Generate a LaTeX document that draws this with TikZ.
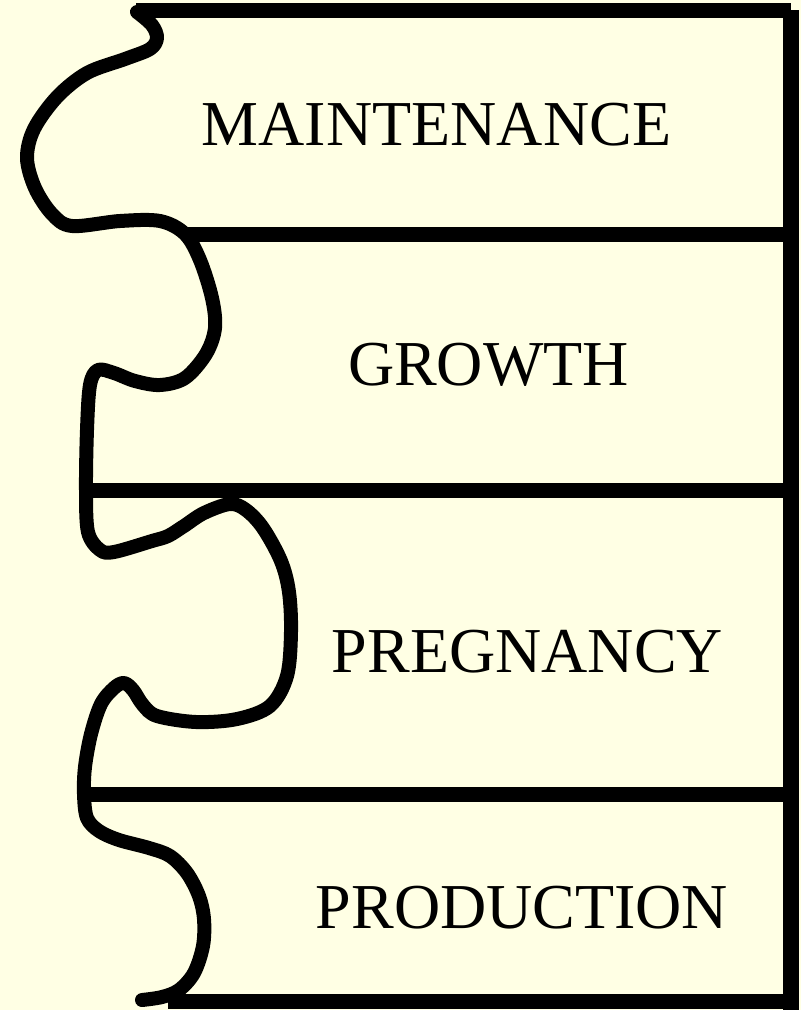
\documentclass[tikz,border=0pt]{standalone}
\usepackage{fontspec}
\setmainfont{Liberation Serif}
\definecolor{bgcream}{HTML}{FFFFE4}
\tikzset{
  bar/.style={line width=15pt, line cap=butt},
  wave/.style={line width=14pt, line cap=round, line join=round},
  label/.style={font=\fontsize{64}{70}\selectfont, anchor=base, inner sep=0pt}
}
\begin{document}
\begin{tikzpicture}[x=1pt,y=-1pt]
\fill[bgcream] (0,0) rectangle (801,1010);
\useasboundingbox (0,0) rectangle (801,1010);
% corner and bar ends
\coordinate (tl) at (136,10);
\coordinate (tr) at (791,10);
\coordinate (br) at (791,1012);
\coordinate (l2) at (187,234);
\coordinate (r2) at (791,234);
\coordinate (l3) at (86,490);
\coordinate (r3) at (791,490);
\coordinate (l4) at (84,794);
\coordinate (r4) at (791,794);
\coordinate (l5) at (168,1001);
\coordinate (r5) at (791,1001);
% horizontal bars
\draw[bar] (tl) -- (tr);
\draw[bar] (l2) -- (r2);
\draw[bar] (l3) -- (r3);
\draw[bar] (l4) -- (r4);
\draw[bar] (l5) -- (r5);
% right vertical bar
\draw[bar, line width=16pt] (tr) -- (br);
% wavy left edge
\draw[wave] plot[smooth, tension=0.55] coordinates {
 (137,12) (152,25) (157,38) (150,49) (125,59) (87,73) (57,97) (34,129) (27,158)
 (35,188) (52,214) (72,226) (120,221) (160,221) (185,234) (200,260) (212,298)
 (215,328) (206,354) (185,378) (160,385) (135,381) (114,373) (98,370) (90,385)
 (87,430) (86,490) (88,532) (100,550) (114,552) (152,541) (168,536) (184,526)
 (204,513) (230,504) (246,510) (263,528) (281,561) (289,592) (291,632) (287,676)
 (270,706) (237,719) (196,722) (157,716) (143,705) (133,690) (124,683) (114,688)
 (101,704) (91,734) (85,767) (84,794) (87,818) (99,831) (119,840) (149,848)
 (170,856) (187,873) (199,896) (204,919) (203,946) (194,973) (179,990) (162,997)
 (142,1000)
};
% labels
\node[label] (maint) at (436.5,145) {MAINTENANCE};
\node[label] (growth) at (488.5,385) {GROWTH};
\node[label] (preg) at (527.5,672) {PREGNANCY};
\node[label] (prod) at (522,928) {PRODUCTION};
\end{tikzpicture}
\end{document}
